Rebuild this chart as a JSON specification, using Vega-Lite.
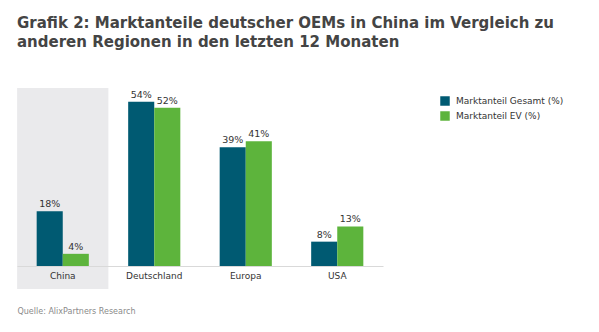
{
  "$schema": "https://vega.github.io/schema/vega-lite/v6.json",
  "width": 366,
  "height": 178,
  "autosize": {"type": "none"},
  "padding": {"left": 17, "top": 88, "right": 216, "bottom": 66},
  "background": "white",
  "title": {
    "text": ["Grafik 2: Marktanteile deutscher OEMs in China im Vergleich zu", "anderen Regionen in den letzten 12 Monaten"],
    "anchor": "start",
    "font": "DejaVu Sans",
    "fontSize": 15,
    "fontWeight": "bold",
    "color": "#444444",
    "lineHeight": 19,
    "offset": 38
  },
  "config": {
    "view": {"stroke": null},
    "font": "DejaVu Sans"
  },
  "data": {
    "values": [
      {"region": "China", "series": "Marktanteil Gesamt (%)", "value": 18},
      {"region": "China", "series": "Marktanteil EV (%)", "value": 4},
      {"region": "Deutschland", "series": "Marktanteil Gesamt (%)", "value": 54},
      {"region": "Deutschland", "series": "Marktanteil EV (%)", "value": 52},
      {"region": "Europa", "series": "Marktanteil Gesamt (%)", "value": 39},
      {"region": "Europa", "series": "Marktanteil EV (%)", "value": 41},
      {"region": "USA", "series": "Marktanteil Gesamt (%)", "value": 8},
      {"region": "USA", "series": "Marktanteil EV (%)", "value": 13}
    ]
  },
  "layer": [
    {
      "data": {"values": [{"region": "China", "top": 58.5, "bottom": -7.6}]},
      "mark": {"type": "bar", "color": "#eaeaec", "width": {"band": 1.75}},
      "encoding": {
        "x": {
          "field": "region",
          "type": "nominal",
          "sort": ["China", "Deutschland", "Europa", "USA"],
          "scale": {"domain": ["China", "Deutschland", "Europa", "USA"], "paddingInner": 0.43, "paddingOuter": 0.215},
          "axis": {
            "title": "Quelle: AlixPartners Research",
            "titleAnchor": "start",
            "titleAlign": "left",
            "titleBaseline": "middle",
            "titleX": 0,
            "titleY": 45,
            "titleFontSize": 8,
            "titleFontWeight": "normal",
            "titleColor": "#8a8a8a",
            "labelAngle": 0,
            "labelFontSize": 9,
            "labelColor": "#333333",
            "labelPadding": 5,
            "ticks": false,
            "domainColor": "#d9d9d9",
            "domainWidth": 1,
            "zindex": 1
          }
        },
        "y": {"field": "top", "type": "quantitative", "scale": {"domain": [0, 58.5], "nice": false, "zero": false}, "axis": null},
        "y2": {"field": "bottom"}
      }
    },
    {
      "mark": {"type": "bar"},
      "encoding": {
        "x": {"field": "region", "type": "nominal"},
        "xOffset": {"field": "series", "type": "nominal", "sort": ["Marktanteil Gesamt (%)", "Marktanteil EV (%)"], "scale": {"paddingInner": 0, "paddingOuter": 0}},
        "y": {"field": "value", "type": "quantitative"},
        "color": {
          "field": "series",
          "type": "nominal",
          "scale": {"domain": ["Marktanteil Gesamt (%)", "Marktanteil EV (%)"], "range": ["#005a72", "#5db43c"]},
          "legend": {
            "title": null,
            "orient": "none",
            "legendX": 423,
            "legendY": 8,
            "symbolType": "square",
            "symbolSize": 90,
            "symbolStrokeWidth": 0,
            "symbolOpacity": 1,
            "labelFontSize": 9,
            "labelColor": "#333333",
            "labelOffset": 6,
            "rowPadding": 5
          }
        }
      }
    },
    {
      "transform": [{"calculate": "datum.value + '%'", "as": "label"}],
      "mark": {"type": "text", "baseline": "bottom", "dy": -2, "fontSize": 9.5, "color": "#333333"},
      "encoding": {
        "x": {"field": "region", "type": "nominal"},
        "xOffset": {"field": "series", "type": "nominal", "sort": ["Marktanteil Gesamt (%)", "Marktanteil EV (%)"]},
        "y": {"field": "value", "type": "quantitative"},
        "text": {"field": "label", "type": "nominal"}
      }
    }
  ]
}
